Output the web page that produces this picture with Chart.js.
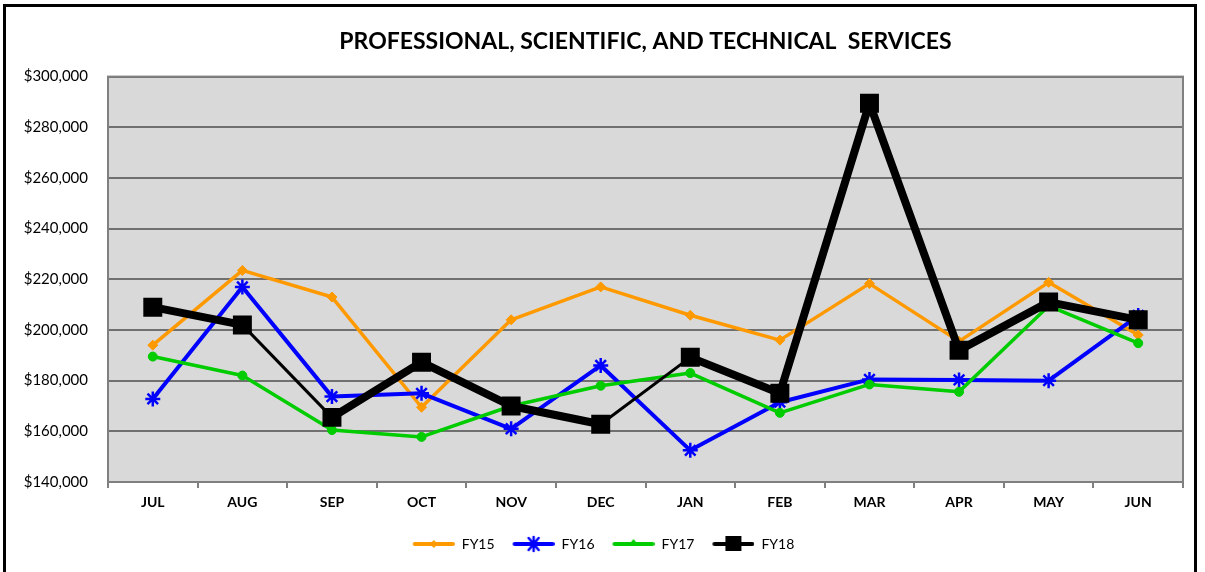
<!DOCTYPE html>
<html>
<head>
<meta charset="utf-8">
<script src="https://cdn.jsdelivr.net/npm/chart.js@4/dist/chart.umd.min.js"></script>
<style>
    html, body { margin: 0; padding: 0; background: #fff; }
    #frame {
        position: absolute; left: 3px; top: 4px; width: 1194px; height: 572px;
        border: 3px solid #000; border-bottom: none; box-sizing: border-box;
    }
    #chart { position: absolute; left: 0; top: 0; }
</style>
</head>
<body>
<div id="frame"></div>
<canvas id="chart" width="1205" height="572"></canvas>
<script>
const months = ['JUL', 'AUG', 'SEP', 'OCT', 'NOV', 'DEC', 'JAN', 'FEB', 'MAR', 'APR', 'MAY', 'JUN'];
const seriesNames = ['FY15', 'FY16', 'FY17', 'FY18'];
const fy15 = [194000, 223500, 213000, 169500, 204000, 217000, 205800, 196000, 218300, 195500, 218800, 198000];
const fy16 = [172800, 217000, 173700, 175000, 161000, 186000, 152500, 171500, 180500, 180300, 180000, 205700];
const fy17 = [189500, 182000, 160500, 157800, 170000, 178000, 183000, 167300, 178500, 175600, 209500, 194800];
const fy18 = [209000, 202000, 165500, 187300, 170000, 162800, 189200, 175000, 289500, 192000, 211000, 204000];
const yTicks = [140000, 160000, 180000, 200000, 220000, 240000, 260000, 280000, 300000];

const chartTitle = 'PROFESSIONAL, SCIENTIFIC, AND TECHNICAL  SERVICES';
const colors = ['#FF9900', '#0000FF', '#00CC00', '#000000'];
const fontName = 'Lato, "Open Sans", sans-serif';

// FY18 segments that excel drew thin
const thinSegs = [1, 5];

// draw a small line + marker icon for the legend
function legendIcon(i) {
    const c = document.createElement('canvas');
    c.width = 56; c.height = 22;
    const g = c.getContext('2d');
    const cx = 35, cy = 11;
    g.strokeStyle = colors[i];
    g.fillStyle = colors[i];
    g.lineWidth = 4;
    g.lineCap = 'round';
    g.beginPath(); g.moveTo(16, cy); g.lineTo(54, cy); g.stroke();
    if (i === 0) {
        g.beginPath();
        g.moveTo(cx, cy - 4); g.lineTo(cx + 4, cy); g.lineTo(cx, cy + 4); g.lineTo(cx - 4, cy);
        g.closePath(); g.fill();
    } else if (i === 1) {
        g.lineWidth = 2.5;
        g.beginPath();
        g.moveTo(cx - 5, cy - 6); g.lineTo(cx + 5, cy + 6);
        g.moveTo(cx + 5, cy - 6); g.lineTo(cx - 5, cy + 6);
        g.moveTo(cx, cy - 7); g.lineTo(cx, cy + 7);
        g.stroke();
    } else if (i === 2) {
        g.beginPath();
        g.moveTo(cx, cy - 5); g.lineTo(cx + 4, cy); g.lineTo(cx - 4, cy);
        g.closePath(); g.fill();
    } else {
        g.fillRect(cx - 8, cy - 8, 16, 15);
    }
    return c;
}
const legendIcons = seriesNames.map((n, i) => legendIcon(i));

const plotFrame = {
    id: 'plotFrame',
    beforeDraw(chart) {
        const a = chart.chartArea, ctx = chart.ctx;
        ctx.save();
        ctx.fillStyle = '#D9D9D9';
        ctx.fillRect(a.left, a.top, a.right - a.left, a.bottom - a.top);
        ctx.restore();
    },
    beforeDatasetsDraw(chart) {
        const a = chart.chartArea, ctx = chart.ctx;
        ctx.save();
        ctx.strokeStyle = '#808080';
        ctx.lineWidth = 2;
        ctx.strokeRect(a.left, a.top, a.right - a.left, a.bottom - a.top);
        ctx.restore();
    }
};

const ctx = document.getElementById('chart').getContext('2d');
new Chart(ctx, {
    type: 'line',
    data: {
        labels: months,
        datasets: [
            {
                label: seriesNames[0], data: fy15, order: 4,
                borderColor: colors[0], backgroundColor: colors[0], borderWidth: 3.5,
                pointStyle: 'rectRot', pointRadius: 5, pointBorderWidth: 1
            },
            {
                label: seriesNames[1], data: fy16, order: 3,
                borderColor: colors[1], backgroundColor: colors[1], borderWidth: 4,
                pointStyle: 'star', pointRadius: 7.5, pointBorderWidth: 2.5
            },
            {
                label: seriesNames[2], data: fy17, order: 2,
                borderColor: colors[2], backgroundColor: colors[2], borderWidth: 3.5,
                pointStyle: 'circle', pointRadius: 4.5, pointBorderWidth: 1
            },
            {
                label: seriesNames[3], data: fy18, order: 1,
                borderColor: colors[3], backgroundColor: colors[3], borderWidth: 8,
                pointStyle: 'rect', pointRadius: 12, pointBorderWidth: 2,
                segment: {
                    borderWidth: c => thinSegs.includes(c.p0DataIndex) ? 3 : 8
                }
            }
        ]
    },
    options: {
        responsive: false,
        animation: false,
        elements: { line: { tension: 0, borderJoinStyle: 'round' } },
        layout: { padding: { left: 10, right: 22, top: 0, bottom: 11 } },
        plugins: {
            tooltip: { enabled: false },
            title: {
                display: true,
                text: chartTitle,
                fullSize: false,
                color: '#000',
                font: { family: fontName, size: 23, weight: 'bold' },
                padding: { top: 28, bottom: 21 }
            },
            legend: {
                position: 'bottom',
                labels: {
                    usePointStyle: true,
                    pointStyleWidth: 56,
                    padding: 4,
                    color: '#000',
                    font: { family: fontName, size: 14 },
                    generateLabels: chart => chart.data.datasets.map((ds, i) => ({
                        text: ds.label,
                        pointStyle: legendIcons[i],
                        datasetIndex: i,
                        fillStyle: colors[i],
                        strokeStyle: colors[i],
                        lineWidth: 0,
                        hidden: false,
                        fontColor: '#000'
                    }))
                }
            }
        },
        scales: {
            x: {
                offset: true,
                afterFit: s => { s.height = 51; },
                grid: {
                    offset: true, drawOnChartArea: false, drawTicks: true,
                    tickLength: 6, color: '#808080', lineWidth: 2
                },
                border: { display: true, color: '#707070', width: 2 },
                ticks: {
                    color: '#000', padding: 6,
                    font: { family: fontName, size: 14, weight: 'bold' }
                }
            },
            y: {
                min: yTicks[0],
                max: yTicks[yTicks.length - 1],
                afterFit: s => { s.width = 98; },
                afterBuildTicks: s => { s.ticks = yTicks.map(v => ({ value: v })); },
                grid: { color: '#707070', lineWidth: 2, drawTicks: false },
                border: { display: true, color: '#808080', width: 2 },
                ticks: {
                    color: '#000', padding: 20,
                    font: { family: fontName, size: 15 },
                    callback: v => '$' + v.toLocaleString('en-US')
                }
            }
        }
    },
    plugins: [plotFrame]
});
</script>
</body>
</html>
